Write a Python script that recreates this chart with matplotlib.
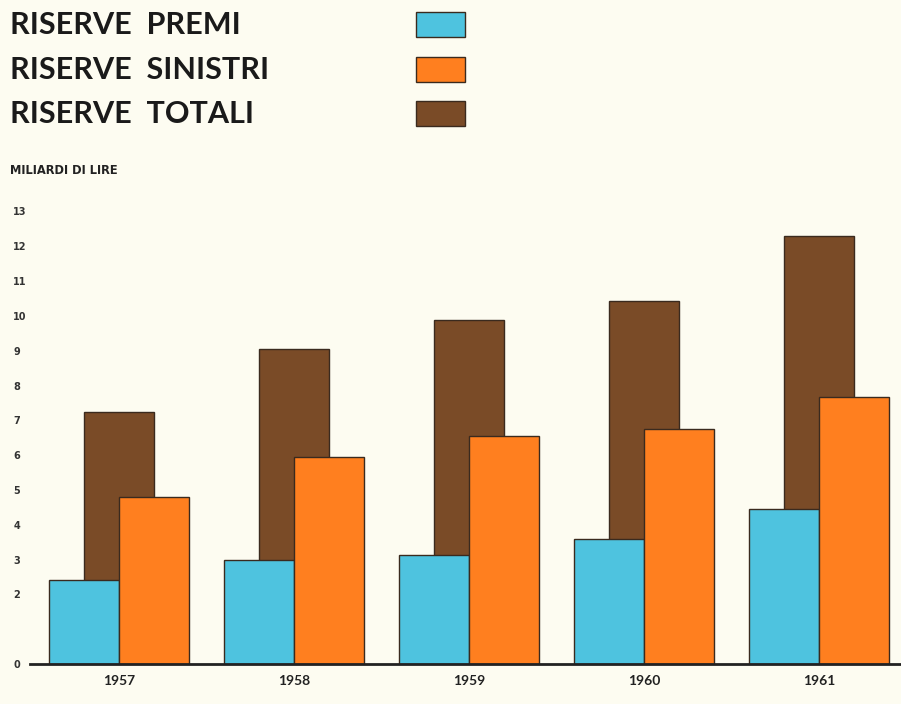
import matplotlib.pyplot as plt

# riserve tecniche, miliardi di lire
anni = ["1957", "1958", "1959", "1960", "1961"]
riserve_premi = [2.4, 2.98, 3.12, 3.58, 4.45]
riserve_sinistri = [4.8, 5.95, 6.56, 6.76, 7.67]
riserve_totali = [7.25, 9.05, 9.88, 10.43, 12.3]
y_ticks = [0, 2, 3, 4, 5, 6, 7, 8, 9, 10, 11, 12, 13]

c_premi = "#4ec3df"
c_sinistri = "#ff7f1f"
c_totali = "#7a4b27"
sfondo = "#fdfcf1"
edge = "#3a2a1e"

fig = plt.figure(figsize=(9.01, 7.04), dpi=100, facecolor=sfondo)
ax = fig.add_axes([0.0333, 0.0568, 0.9667, 0.6577])
ax.set_facecolor(sfondo)

x = list(range(len(anni)))
w = 0.4
ax.bar(x, riserve_totali, width=w, color=c_totali, edgecolor=edge, linewidth=1, zorder=1)
ax.bar([i - w / 2 for i in x], riserve_premi, width=w, color=c_premi, edgecolor=edge, linewidth=1, zorder=2)
ax.bar([i + w / 2 for i in x], riserve_sinistri, width=w, color=c_sinistri, edgecolor=edge, linewidth=1, zorder=2)

ax.set_xlim(-0.51, 4.47)
ax.set_ylim(0, 13.3)
for s in ["top", "right", "left"]:
    ax.spines[s].set_visible(False)
ax.spines["bottom"].set_linewidth(2)
ax.spines["bottom"].set_color("#222222")
ax.spines["bottom"].set_zorder(3)

ax.set_xticks(x)
ax.set_xticklabels(anni, fontsize=10, fontfamily="Lato", fontweight="bold", color="#222222")
ax.set_yticks(y_ticks)
ax.set_yticklabels([str(v) for v in y_ticks], fontsize=7, fontweight="bold",
                   fontfamily="DejaVu Sans", color="#333333", ha="left")
ax.tick_params(axis="both", length=0)
ax.tick_params(axis="y", pad=12)
ax.tick_params(axis="x", pad=8)

fig.text(0.011, 1 - 170 / 704, "MILIARDI DI LIRE", fontsize=8.3, fontweight="bold",
         fontfamily="DejaVu Sans", color="#222222", va="center")

# legenda a sinistra con riquadri colorati
voci = ["RISERVE  PREMI", "RISERVE  SINISTRI", "RISERVE  TOTALI"]
colori = [c_premi, c_sinistri, c_totali]
righe_y = [25, 70, 114]
for testo, col, yp in zip(voci, colori, righe_y):
    fig.text(0.011, 1 - yp / 704, testo, fontsize=22, fontfamily="Lato", fontweight="bold",
             color="#1a1a1a", va="center")
    fig.patches.append(plt.Rectangle((416 / 901, 1 - (yp + 12) / 704), 49 / 901, 25 / 704,
                                     transform=fig.transFigure, facecolor=col,
                                     edgecolor=edge, linewidth=1))

fig.savefig("out.png", dpi=100, facecolor=sfondo)
